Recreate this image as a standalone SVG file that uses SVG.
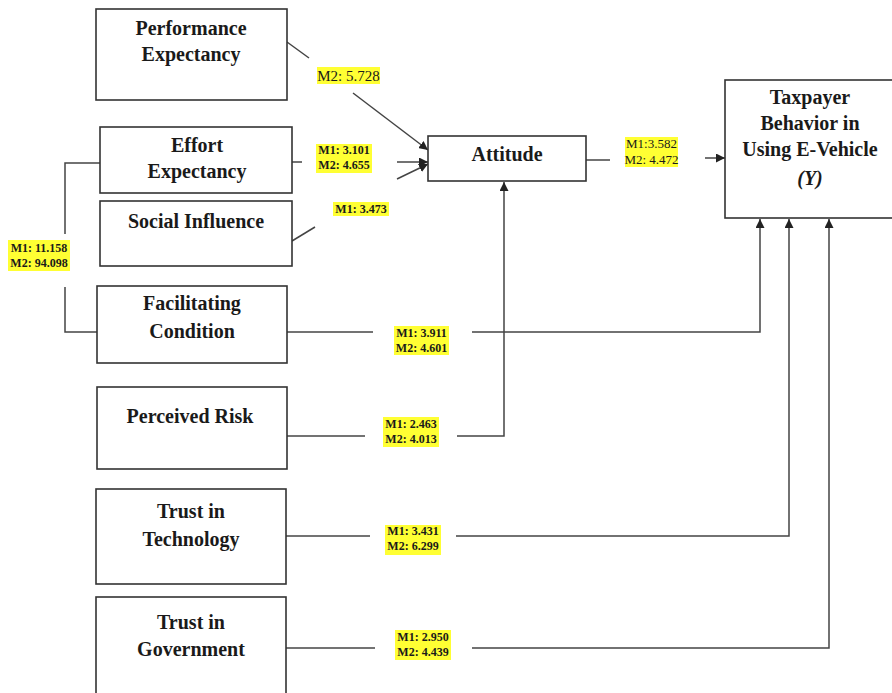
<svg xmlns="http://www.w3.org/2000/svg" width="892" height="693" viewBox="0 0 892 693">
<defs>
<marker id="ah" viewBox="0 0 10 10" refX="10" refY="5" markerWidth="9" markerHeight="9" markerUnits="userSpaceOnUse" orient="auto">
<path d="M0,0 L10,5 L0,10 Z" fill="#222"/>
</marker>
</defs>
<style>
.box{fill:#fff;stroke:#333;stroke-width:1.6}
.t{font-family:"Liberation Serif","Times New Roman",serif;font-weight:bold;font-size:20px;fill:#1a1a1a;text-anchor:middle}
.ti{font-style:italic}
.c{fill:none;stroke:#444;stroke-width:1.5}
.a{marker-end:url(#ah)}
.hl{fill:#ffff33}
.l{font-family:"Liberation Serif","Times New Roman",serif;font-weight:bold;font-size:12px;fill:#1a1a1a;text-anchor:middle}
.lr{font-weight:normal;font-size:13px}
.lb{font-weight:normal;font-size:15px}
</style>
<rect width="892" height="693" fill="#fff"/>
<g id="connectors">
<path class="c" d="M287,42 L309,58"/>
<path class="c a" d="M353,93 L428,150"/>
<path class="c" d="M292,162 L302,162"/>
<path class="c a" d="M397,162 L428,162"/>
<path class="c" d="M292,241 L315,227"/>
<path class="c a" d="M397,179 L428,164"/>
<path class="c" d="M586,160 L610,160"/>
<path class="c a" d="M705,158 L725,158"/>
<path class="c" d="M100,163 L65,163 L65,234"/>
<path class="c" d="M65,287 L65,332 L97,332"/>
<path class="c" d="M287,332 L373,332"/>
<path class="c a" d="M472,332 L760,332 L760,219"/>
<path class="c" d="M287,436 L365,436"/>
<path class="c a" d="M457,436 L504,436 L504,182"/>
<path class="c" d="M286,536 L370,536"/>
<path class="c a" d="M456,536 L789,536 L789,219"/>
<path class="c" d="M286,648 L375,648"/>
<path class="c a" d="M472,648 L829,648 L829,219"/>
</g>
<g id="labels">
<g><rect class="hl" x="317" y="67" width="63" height="17"/><text class="l lb" x="348.5" y="81">M2: 5.728</text></g>
<g><rect class="hl" x="316" y="144" width="56" height="29"/><text class="l" x="344" y="154">M1: 3.101</text><text class="l" x="344" y="169">M2: 4.655</text></g>
<g><rect class="hl" x="333" y="202" width="56" height="14"/><text class="l" x="361" y="213">M1: 3.473</text></g>
<g><rect class="hl" x="625" y="137" width="53" height="30"/><text class="l lr" x="651.5" y="148">M1:3.582</text><text class="l lr" x="651.5" y="164">M2: 4.472</text></g>
<g><rect class="hl" x="8" y="240" width="62" height="31"/><text class="l" x="39" y="252">M1: 11.158</text><text class="l" x="39" y="267">M2: 94.098</text></g>
<g><rect class="hl" x="394" y="326" width="55" height="29"/><text class="l" x="421.5" y="337">M1: 3.911</text><text class="l" x="421.5" y="352">M2: 4.601</text></g>
<g><rect class="hl" x="383" y="417" width="56" height="30"/><text class="l" x="411" y="428">M1: 2.463</text><text class="l" x="411" y="443">M2: 4.013</text></g>
<g><rect class="hl" x="385" y="525" width="56" height="30"/><text class="l" x="413" y="535">M1: 3.431</text><text class="l" x="413" y="550">M2: 6.299</text></g>
<g><rect class="hl" x="395" y="630" width="56" height="30"/><text class="l" x="423" y="641">M1: 2.950</text><text class="l" x="423" y="656">M2: 4.439</text></g>
</g>
<g id="performance-expectancy"><rect class="box" x="96" y="9" width="191" height="91"/><text class="t" x="191" y="35">Performance</text><text class="t" x="191" y="61">Expectancy</text></g>
<g id="effort-expectancy"><rect class="box" x="100" y="127" width="192" height="66"/><text class="t" x="197" y="152">Effort</text><text class="t" x="197" y="178">Expectancy</text></g>
<g id="social-influence"><rect class="box" x="100" y="201" width="192" height="65"/><text class="t" x="196" y="228">Social Influence</text></g>
<g id="facilitating-condition"><rect class="box" x="97" y="286" width="190" height="77"/><text class="t" x="192" y="310">Facilitating</text><text class="t" x="192" y="338">Condition</text></g>
<g id="perceived-risk"><rect class="box" x="97" y="387" width="190" height="82"/><text class="t" x="190" y="423">Perceived Risk</text></g>
<g id="trust-in-technology"><rect class="box" x="96" y="489" width="190" height="95"/><text class="t" x="191" y="518">Trust in</text><text class="t" x="191" y="546">Technology</text></g>
<g id="trust-in-government"><rect class="box" x="96" y="597" width="190" height="110"/><text class="t" x="191" y="629">Trust in</text><text class="t" x="191" y="656">Government</text></g>
<g id="attitude"><rect class="box" x="428" y="136" width="158" height="45"/><text class="t" x="507" y="161">Attitude</text></g>
<g id="taxpayer-behavior"><rect class="box" x="725" y="80" width="175" height="138"/><text class="t" x="810" y="104">Taxpayer</text><text class="t" x="810" y="130">Behavior in</text><text class="t" x="810" y="156">Using E-Vehicle</text><text class="t ti" x="810" y="185">(Y)</text></g>
</svg>
